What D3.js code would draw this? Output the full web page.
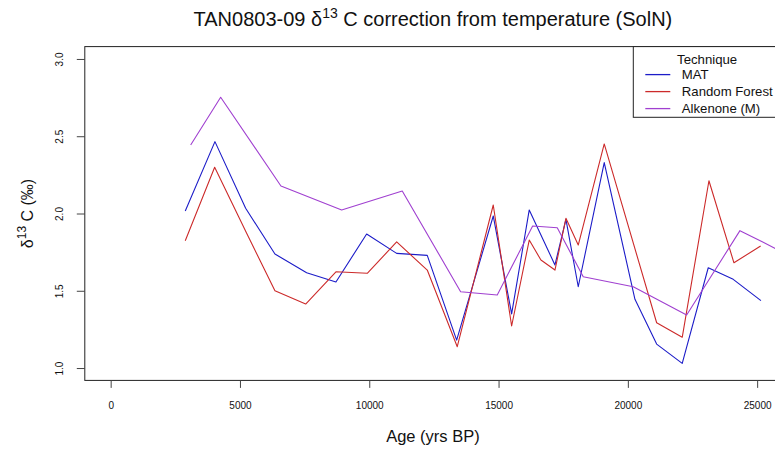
<!DOCTYPE html>
<html>
<head>
<meta charset="utf-8">
<script src="https://cdn.jsdelivr.net/npm/d3@7"></script>
<style>
  html, body { margin: 0; padding: 0; background: #fff; overflow: hidden; }
  svg { display: block; font-family: "Liberation Sans", Arial, sans-serif; }
</style>
</head>
<body>
<div id="chart"></div>
<script>
// ---- Data ----
const matAge   = [2885, 4033, 5220, 6353, 7579, 8712, 9899, 11060, 12243, 13380, 14795, 15506, 16187, 17181, 17606, 18082, 19087, 20275, 21114, 22103, 23109, 24075, 25147];
const matD13C  = [2.016, 2.465, 2.034, 1.738, 1.617, 1.557, 1.867, 1.742, 1.729, 1.181, 1.984, 1.350, 2.023, 1.667, 1.962, 1.526, 2.329, 1.445, 1.155, 1.030, 1.649, 1.574, 1.436];
const rfAge    = [2885, 4022, 5259, 6353, 7541, 8712, 9923, 11060, 12243, 13403, 14795, 15506, 16187, 16639, 17181, 17606, 18082, 19087, 21114, 22103, 23136, 24103, 25135];
const rfD13C   = [1.824, 2.299, 1.872, 1.500, 1.414, 1.623, 1.613, 1.816, 1.634, 1.138, 2.055, 1.272, 1.828, 1.699, 1.634, 1.969, 1.796, 2.450, 1.293, 1.199, 2.212, 1.681, 1.790];
const alkAge   = [3094, 4254, 6585, 8933, 11276, 13534, 14950, 16319, 17270, 18275, 20209, 22274, 24335, 26500];
const alkD13C  = [2.443, 2.752, 2.178, 2.023, 2.146, 1.494, 1.473, 1.919, 1.908, 1.591, 1.526, 1.343, 1.889, 1.707];

const seriesNames  = ["MAT", "Random Forest", "Alkenone (M)"];
const seriesColors = ["#1c1cc8", "#cc2a2a", "#a040d0"];
const xTicks = [0, 5000, 10000, 15000, 20000, 25000];
const yTicks = [1.0, 1.5, 2.0, 2.5, 3.0];

// ---- Layout ----
const W = 775, H = 450;
const plot = { left: 84.8, right: 783, top: 46.6, bottom: 380.4 };

const svg = d3.select("#chart").append("svg")
  .attr("width", W).attr("height", H);

const x = d3.scaleLinear().domain([-1000, 26000]).range([plot.left, plot.right]);
const y = d3.scaleLinear().domain([0.92, 3.08]).range([plot.bottom, plot.top]);

svg.append("defs").append("clipPath").attr("id", "plotclip")
  .append("rect")
  .attr("x", plot.left).attr("y", plot.top)
  .attr("width", plot.right - plot.left).attr("height", plot.bottom - plot.top);

// ---- Lines ----
const series = [
  { age: matAge, val: matD13C },
  { age: rfAge,  val: rfD13C },
  { age: alkAge, val: alkD13C }
];
const line = d3.line().x(d => x(d[0])).y(d => y(d[1]));
const g = svg.append("g").attr("clip-path", "url(#plotclip)");
series.forEach((s, i) => {
  g.append("path")
    .datum(s.age.map((a, j) => [a, s.val[j]]))
    .attr("d", line)
    .attr("fill", "none")
    .attr("stroke", seriesColors[i])
    .attr("stroke-width", 1.1)
    .attr("stroke-linejoin", "round");
});

// ---- Box ----
svg.append("rect")
  .attr("x", plot.left).attr("y", plot.top)
  .attr("width", plot.right - plot.left).attr("height", plot.bottom - plot.top)
  .attr("fill", "none").attr("stroke", "#222").attr("stroke-width", 1);

// ---- Axes ----
const xAxis = d3.axisBottom(x).tickValues(xTicks).tickSize(7.5).tickPadding(14)
  .tickFormat(d3.format("d"));
const xg = svg.append("g").attr("transform", `translate(0,${plot.bottom})`).call(xAxis);
xg.select(".domain").remove();
xg.selectAll(".tick line").attr("stroke", "#444");
xg.selectAll(".tick text").attr("font-size", 10).attr("fill", "#111")
  .attr("font-family", "Liberation Sans, Arial, sans-serif");

const yAxis = d3.axisLeft(y).tickValues(yTicks).tickSize(8).tickFormat(d3.format(".1f"));
const yg = svg.append("g").attr("transform", `translate(${plot.left},0)`).call(yAxis);
yg.select(".domain").remove();
yg.selectAll(".tick line").attr("stroke", "#444");
yg.selectAll(".tick text")
  .attr("font-size", 10).attr("fill", "#111")
  .attr("font-family", "Liberation Sans, Arial, sans-serif")
  .attr("x", null).attr("dy", null)
  .attr("text-anchor", "middle")
  .attr("transform", "translate(-22,0) rotate(-90)");

// ---- Title ----
const title = svg.append("text")
  .attr("x", (plot.left + plot.right) / 2 - 1).attr("y", 26)
  .attr("text-anchor", "middle").attr("font-size", 20).attr("fill", "#111");
title.append("tspan").text("TAN0803-09 \u03B4");
title.append("tspan").attr("font-size", 14).attr("dy", -8).text("13");
title.append("tspan").attr("dy", 8).text(" C correction from temperature (SolN)");

// ---- Axis titles ----
svg.append("text")
  .attr("x", (plot.left + plot.right) / 2 - 1).attr("y", 442)
  .attr("text-anchor", "middle").attr("font-size", 16.5).attr("fill", "#111")
  .text("Age (yrs BP)");

const yl = svg.append("text")
  .attr("transform", `translate(33,${(plot.top + plot.bottom) / 2}) rotate(-90)`)
  .attr("text-anchor", "middle").attr("font-size", 16).attr("fill", "#111");
yl.append("tspan").text("\u03B4");
yl.append("tspan").attr("font-size", 12).attr("dy", -7).text("13");
yl.append("tspan").attr("dy", 7).text(" C (\u2030)");

// ---- Legend ----
const lg = svg.append("g");
const lx = 633.3, ly = plot.top, lw = plot.right - lx, lh = 70.7;
lg.append("rect").attr("x", lx).attr("y", ly).attr("width", lw).attr("height", lh)
  .attr("fill", "#fff").attr("stroke", "#222").attr("stroke-width", 1);
lg.append("text").attr("x", lx + lw / 2 - 1).attr("y", ly + 17)
  .attr("text-anchor", "middle").attr("font-size", 13.2).attr("fill", "#111").text("Technique");
seriesNames.forEach((name, i) => {
  const yy = ly + 28 + i * 17;
  lg.append("line").attr("x1", lx + 12).attr("x2", lx + 37)
    .attr("y1", yy).attr("y2", yy)
    .attr("stroke", seriesColors[i]).attr("stroke-width", 1.3);
  lg.append("text").attr("x", lx + 48.5).attr("y", yy + 4.7)
    .attr("font-size", 13.2).attr("fill", "#111").text(name);
});
</script>
</body>
</html>
